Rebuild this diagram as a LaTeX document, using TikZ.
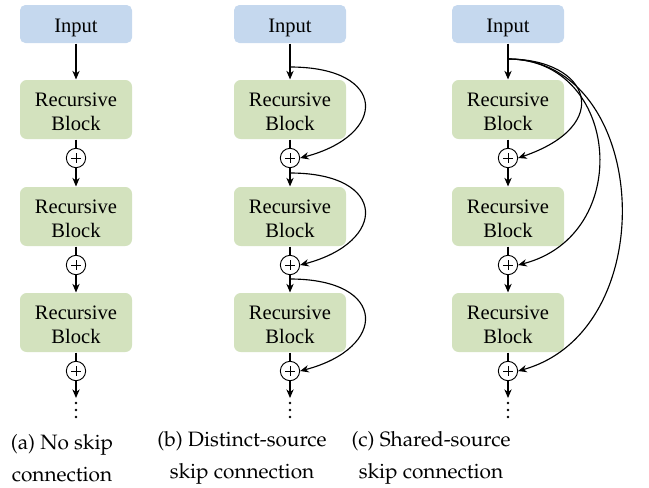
\documentclass[tikz,border=0pt]{standalone}
\usepackage[T1]{fontenc}
\usepackage{fontspec}
\setmainfont{Liberation Serif}
\usetikzlibrary{arrows.meta}
\definecolor{inblue}{RGB}{197,216,238}
\definecolor{blkgreen}{RGB}{211,226,190}
\newcommand\capfont{\fontencoding{T1}\fontfamily{ppl}\selectfont\fontsize{15.6}{24}\selectfont}
\begin{document}
\begin{tikzpicture}[x=0.75pt,y=-0.75pt,line width=0.85pt,
  >={Stealth[length=6.5pt,width=5.5pt]},
  inbox/.style={fill=inblue,rounded corners=4pt,minimum width=84pt,minimum height=28.5pt,inner sep=0pt,text height=12.5pt,text depth=0pt,font=\fontsize{15.4}{18}\selectfont},
  blk/.style={fill=blkgreen,rounded corners=5pt,minimum width=84pt,minimum height=44.25pt,inner sep=0pt,align=center,text height=32pt,text depth=0pt,font=\fontsize{15.4}{18}\selectfont},
  sumnode/.style={circle,draw,line width=0.7pt,minimum size=14.5pt,inner sep=0pt,
    path picture={\draw[line width=0.7pt] ([xshift=-3.6pt]path picture bounding box.center) -- ([xshift=3.6pt]path picture bounding box.center);
                  \draw[line width=0.7pt] ([yshift=-3.6pt]path picture bounding box.center) -- ([yshift=3.6pt]path picture bounding box.center);}},
  dotnode/.style={circle,fill,inner sep=0pt,minimum size=2.2pt},
  captext/.style={align=center,font=\capfont,inner sep=0pt}]
\useasboundingbox (0,0) rectangle (649,487);
\foreach \n/\x in {a/76,b/290,c/508}{
  \node[inbox] (\n-in) at (\x,24) {Input};
  \node[blk] (\n-b1) at (\x,109.5) {Recursive\\Block};
  \node[blk] (\n-b2) at (\x,216.5) {Recursive\\Block};
  \node[blk] (\n-b3) at (\x,322.5) {Recursive\\Block};
  \node[sumnode] (\n-s1) at (\x,158) {};
  \node[sumnode] (\n-s2) at (\x,265) {};
  \node[sumnode] (\n-s3) at (\x,371) {};
  \coordinate (\n-end) at (\x,398);
  \node[dotnode] (\n-d1) at (\x,403) {};
  \node[dotnode] (\n-d2) at (\x,410) {};
  \node[dotnode] (\n-d3) at (\x,417) {};
  \draw[->] (\n-in) -- (\n-b1);
  \draw (\n-b1) -- (\n-s1);
  \draw[->] (\n-s1) -- (\n-b2);
  \draw (\n-b2) -- (\n-s2);
  \draw[->] (\n-s2) -- (\n-b3);
  \draw (\n-b3) -- (\n-s3);
  \draw[->] (\n-s3) -- (\n-end);
}
% distinct-source skips
\coordinate (bk1) at (290,67);
\coordinate (bk2) at (290,173);
\coordinate (bk3) at (290,279);
\draw[->] (bk1) .. controls (388,67) and (388,135) .. (b-s1.east);
\draw[->] (bk2) .. controls (388,173) and (388,242) .. (b-s2.east);
\draw[->] (bk3) .. controls (388,279) and (388,348) .. (b-s3.east);
% shared-source skips
\coordinate (ck) at (508,59);
\draw[->] (ck) .. controls (590,59) and (615,125) .. (c-s1.east);
\draw[->] (ck) .. controls (620,59) and (635,235) .. (c-s2.east);
\draw[->] (ck) .. controls (650,59) and (665,330) .. (c-s3.east);
% captions
\node[captext] (capa) at (62,458) {(a) No skip\\connection};
\node[captext] (capb) at (242,458) {(b) Distinct-source\\skip connection};
\node[captext] (capc) at (431,458) {(c) Shared-source\\skip connection};
\end{tikzpicture}
\end{document}
